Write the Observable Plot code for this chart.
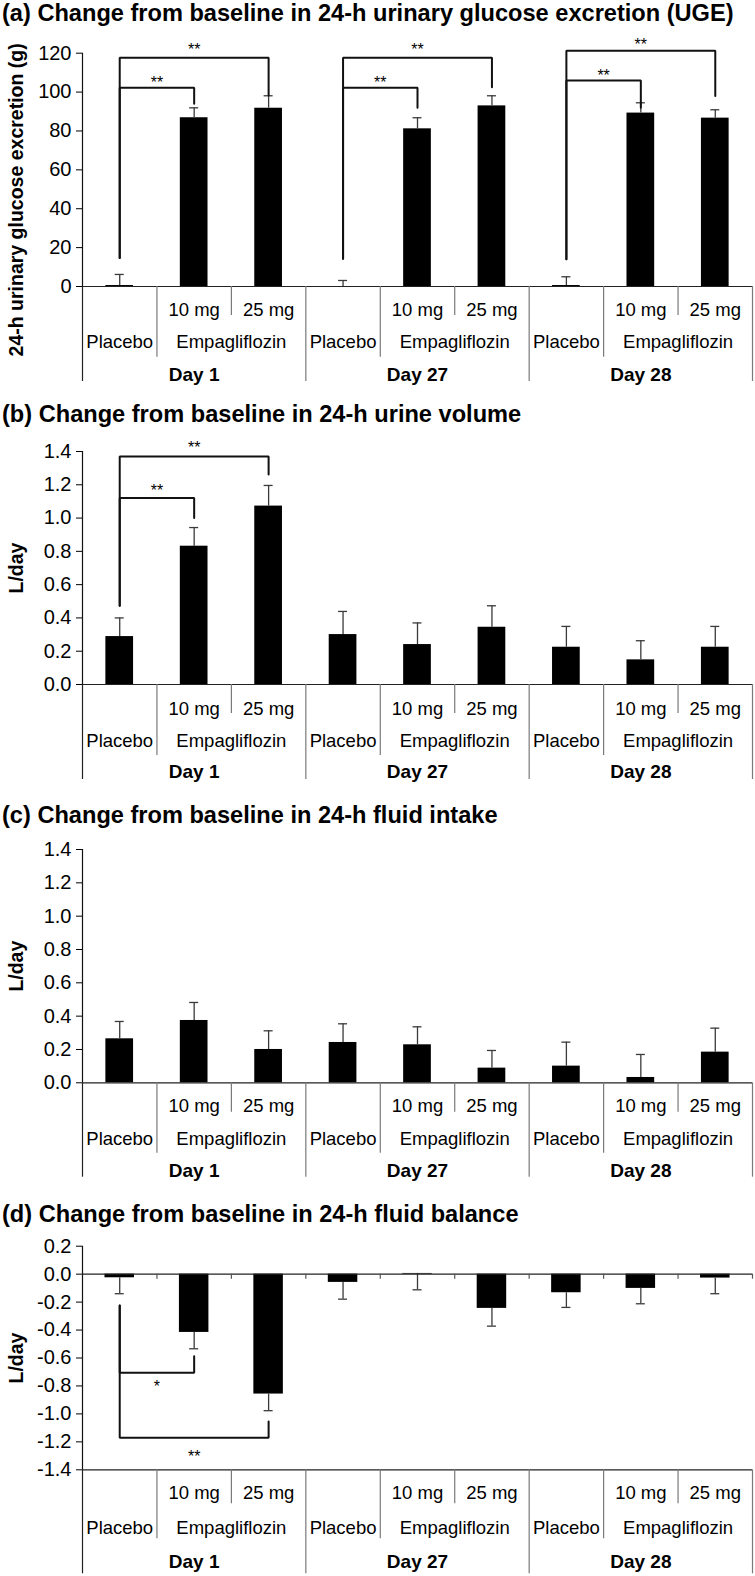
<!DOCTYPE html>
<html><head><meta charset="utf-8">
<script src="https://cdn.jsdelivr.net/npm/d3@7"></script>
<script src="https://cdn.jsdelivr.net/npm/@observablehq/plot@0.6"></script>
<style>
body{margin:0;background:#fff;}
#root{position:relative;width:755px;height:1576px;font-family:"Liberation Sans",Arial,sans-serif;overflow:hidden;}
.title{position:absolute;left:2px;font-weight:bold;white-space:nowrap;color:#000;}
.panel{position:absolute;left:0;}
</style></head><body><div id="root"></div>
<script>
// ---- categories ----
const days = ["Day 1", "Day 27", "Day 28"];
const groups = ["Placebo", "10 mg", "25 mg"];
const drugLabel = "Empagliflozin";

// ---- panel titles / axis labels ----
const titles = [
  "(a) Change from baseline in 24-h urinary glucose excretion (UGE)",
  "(b) Change from baseline in 24-h urine volume",
  "(c) Change from baseline in 24-h fluid intake",
  "(d) Change from baseline in 24-h fluid balance"
];
const yLabels = ["24-h urinary glucose excretion (g)", "L/day", "L/day", "L/day"];

// ---- series (order: Day1 P/10/25, Day27 P/10/25, Day28 P/10/25) ----
const ugeMean = [0.5, 86.8, 91.7, -0.4, 81.1, 92.9, 0.5, 89.2, 86.6];
const ugeErr  = [5.7, 5.1, 6.4, 3.5, 5.7, 5.2, 4.5, 5.3, 4.3];
const urineMean = [0.288, 0.831, 1.072, 0.300, 0.240, 0.344, 0.224, 0.148, 0.224];
const urineErr  = [0.112, 0.112, 0.124, 0.139, 0.130, 0.129, 0.125, 0.115, 0.125];
const intakeMean = [0.264, 0.374, 0.200, 0.242, 0.228, 0.088, 0.100, 0.032, 0.184];
const intakeErr  = [0.104, 0.108, 0.112, 0.112, 0.108, 0.106, 0.144, 0.138, 0.144];
const balanceMean = [-0.026, -0.417, -0.858, -0.059, 0.005, -0.245, -0.133, -0.102, -0.028];
const balanceErr  = [0.114, 0.117, 0.119, 0.120, 0.117, 0.127, 0.105, 0.110, 0.112];

// ---- tick labels ----
const ugeTicks = [0, 20, 40, 60, 80, 100, 120];
const literTicks = [0, 0.2, 0.4, 0.6, 0.8, 1.0, 1.2, 1.4];
const balanceTicks = [0.2, 0, -0.2, -0.4, -0.6, -0.8, -1.0, -1.2, -1.4];

// ---- significance brackets (day, compared group, bracket level, ends, label) ----
const ugeBrackets = [
  {day: 0, to: 1, level: 102.2, fromEnd: 14.6, toEnd: 94.0, label: "**", labelAt: 106.8},
  {day: 0, to: 2, level: 117.6, fromEnd: 14.6, toEnd: 98.3, label: "**", labelAt: 123.6},
  {day: 1, to: 1, level: 102.2, fromEnd: 14.3, toEnd: 92.0, label: "**", labelAt: 106.8},
  {day: 1, to: 2, level: 117.6, fromEnd: 14.3, toEnd: 102.5, label: "**", labelAt: 123.6},
  {day: 2, to: 1, level: 106.0, fromEnd: 14.0, toEnd: 92.0, label: "**", labelAt: 110.5},
  {day: 2, to: 2, level: 121.3, fromEnd: 14.0, toEnd: 98.0, label: "**", labelAt: 126.4}
];
const urineBrackets = [
  {day: 0, to: 1, level: 1.12, fromEnd: 0.473, toEnd: 1.0, label: "**", labelAt: 1.186},
  {day: 0, to: 2, level: 1.37, fromEnd: 0.473, toEnd: 1.262, label: "**", labelAt: 1.446}
];
const intakeBrackets = [];
const balanceBrackets = [
  {day: 0, to: 1, level: -0.705, fromEnd: -0.224, toEnd: -0.587, label: "*", labelAt: -0.775},
  {day: 0, to: 2, level: -1.170, fromEnd: -0.224, toEnd: -1.054, label: "**", labelAt: -1.279}
];

const FONT = '"Liberation Sans", Arial, sans-serif';

function rowsOf(mean, err) {
  return mean.map((m, i) => ({
    i, pos: i + 0.5, day: Math.floor(i / 3), group: groups[i % 3], mean: m, err: err[i]
  }));
}

function makePanel(cfg) {
  const rows = rowsOf(cfg.mean, cfg.err);
  const plotH = cfg.height - cfg.marginTop - cfg.marginBottom;
  const dir = cfg.dir;
  const bpts = [];
  cfg.brackets.forEach((b, k) => {
    const x0 = b.day * 3 + 0.5, x1 = b.day * 3 + b.to + 0.5;
    bpts.push({id: k, x: x0, y: b.fromEnd}, {id: k, x: x0, y: b.level},
              {id: k, x: x1, y: b.level}, {id: k, x: x1, y: b.toEnd});
  });
  const slots = d3.range(10);
  const deep = slots.filter(s => s % 3 === 0);
  const mid = slots.filter(s => s % 3 === 1);
  const shallow = slots.filter(s => s % 3 === 2);
  const dose = rows.filter(r => r.i % 3 !== 0);
  const plac = rows.filter(r => r.i % 3 === 0);
  const dayRows = days.map((d, k) => ({label: d, pos: k * 3 + 1.5}));
  const drugRows = days.map((d, k) => ({label: drugLabel, pos: k * 3 + 2}));
  const [dy1, dy2, dy3] = cfg.textRows;
  const [dp1, dp2, dp3] = cfg.depths;
  const lineGray = "#7a7a7a";

  const marks = [
    Plot.rectY(rows, {x1: "pos", x2: "pos", y1: 0, y2: "mean", fill: "#000",
      insetLeft: -cfg.barW / 2, insetRight: -cfg.barW / 2}),
    Plot.ruleX(rows, {x: "pos", y1: "mean", y2: d => d.mean + dir * d.err, stroke: "#3a3a3a", strokeWidth: 1.3}),
    Plot.ruleY(rows, {x1: "pos", x2: "pos", y: d => d.mean + dir * d.err, stroke: "#3a3a3a", strokeWidth: 1.3,
      insetLeft: -4.5, insetRight: -4.5}),
    Plot.ruleX([0], {y1: cfg.domain[0], y2: cfg.domain[1], stroke: "#111", strokeWidth: 1.2}),
    Plot.ruleY([cfg.domain[0]], {stroke: "#222", strokeWidth: 1.2}),
    Plot.ruleX([0], {stroke: "#222", strokeWidth: 1.2, insetTop: plotH, insetBottom: -dp3}),
    Plot.ruleX(deep.filter(s => s > 0), {stroke: lineGray, strokeWidth: 1.2, insetTop: plotH, insetBottom: -dp3}),
    Plot.ruleX(mid, {stroke: lineGray, strokeWidth: 1.2, insetTop: plotH, insetBottom: -dp2}),
    Plot.ruleX(shallow, {stroke: lineGray, strokeWidth: 1.2, insetTop: plotH, insetBottom: -dp1}),
    Plot.text(dose, {x: "pos", text: "group", frameAnchor: "bottom", dy: dy1, fontSize: 18.5, lineAnchor: "middle"}),
    Plot.text(plac, {x: "pos", text: "group", frameAnchor: "bottom", dy: dy2, fontSize: 18.5, lineAnchor: "middle"}),
    Plot.text(drugRows, {x: "pos", text: "label", frameAnchor: "bottom", dy: dy2, fontSize: 18.5, lineAnchor: "middle"}),
    Plot.text(dayRows, {x: "pos", text: "label", frameAnchor: "bottom", dy: dy3, fontSize: 19, fontWeight: "bold", lineAnchor: "middle"}),
    Plot.line(bpts, {x: "x", y: "y", z: "id", stroke: "#111", strokeWidth: 2, strokeLinejoin: "miter"}),
    Plot.text(cfg.brackets, {x: b => b.day * 3 + (b.to + 1) / 2, y: "labelAt", text: "label", fontSize: 16, lineAnchor: "middle", dy: 4}),
    Plot.text([cfg.ylabel], {frameAnchor: "left", textAnchor: "middle", dx: -66, dy: cfg.ylabelDy, rotate: -90,
      fontWeight: "bold", fontSize: 19.5, lineAnchor: "middle"})
  ];
  if (cfg.zeroLine) {
    marks.push(Plot.ruleY([0], {stroke: "#222", strokeWidth: 1.2}));
    marks.push(Plot.ruleX(slots.filter(s => s > 0), {y1: 0, y2: 0, insetBottom: -5, stroke: "#555", strokeWidth: 1.2}));
  }
  return Plot.plot({
    width: 755,
    height: cfg.height,
    marginLeft: 82,
    marginRight: 3,
    marginTop: cfg.marginTop,
    marginBottom: cfg.marginBottom,
    style: {fontFamily: FONT, fontSize: "20px", color: "#000", background: "transparent", overflow: "visible"},
    x: {domain: [0, 9], axis: null},
    y: {domain: cfg.domain, ticks: cfg.ticks, tickFormat: cfg.fmt, tickSize: 6, tickPadding: 5, label: null},
    marks
  });
}

const panels = [
  {mean: ugeMean, err: ugeErr, dir: 1, domain: [0, 120], ticks: ugeTicks, fmt: d => String(d),
   brackets: ugeBrackets, top: 28, height: 374, marginTop: 24.7, marginBottom: 116,
   ylabel: yLabels[0], ylabelDy: 30, textRows: [24, 56, 88], depths: [29, 70.7, 95], barW: 27.7,
   titleBase: 18.3},
  {mean: urineMean, err: urineErr, dir: 1, domain: [0, 1.4], ticks: literTicks, fmt: d => d.toFixed(1),
   brackets: urineBrackets, top: 432, height: 368, marginTop: 19, marginBottom: 116,
   ylabel: yLabels[1], ylabelDy: 0, textRows: [24.3, 56.7, 87.7], depths: [29, 71, 95], barW: 27.7,
   titleBase: 422.7},
  {mean: intakeMean, err: intakeErr, dir: 1, domain: [0, 1.4], ticks: literTicks, fmt: d => d.toFixed(1),
   brackets: intakeBrackets, top: 832, height: 368, marginTop: 17, marginBottom: 117.7,
   ylabel: yLabels[2], ylabelDy: 0, textRows: [23.7, 56, 87.7], depths: [29.4, 70.4, 94.4], barW: 27.7,
   titleBase: 824.3},
  {mean: balanceMean, err: balanceErr, dir: -1, domain: [-1.4, 0.2], ticks: balanceTicks, fmt: d => d.toFixed(1),
   brackets: balanceBrackets, top: 1232, height: 344, marginTop: 13.7, marginBottom: 106.7,
   ylabel: yLabels[3], ylabelDy: 0, textRows: [23, 58, 91.7], depths: [34, 69, 104], barW: 29.5,
   titleBase: 1223.3, zeroLine: true}
];

const root = document.getElementById("root");
const TFS = 23.6;
panels.forEach((cfg) => {
  const svg = makePanel(cfg);
  svg.classList.add("panel");
  svg.style.top = cfg.top + "px";
  root.appendChild(svg);
});
panels.forEach((cfg, k) => {
  const t = document.createElement("div");
  t.className = "title";
  t.textContent = titles[k];
  t.style.fontSize = TFS + "px";
  t.style.lineHeight = (TFS + 4) + "px";
  t.style.top = Math.max(0, cfg.titleBase - 0.8465 * TFS - 2) + "px";
  root.appendChild(t);
});
</script>
</body></html>
